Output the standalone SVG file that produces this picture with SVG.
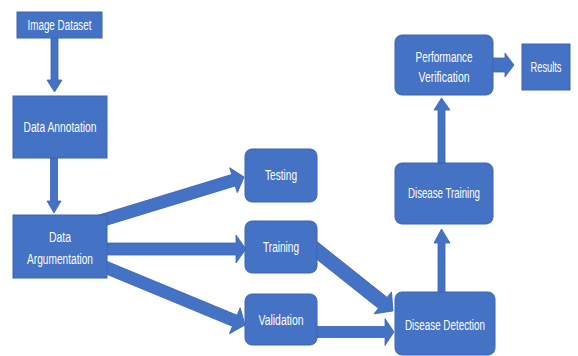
<svg xmlns="http://www.w3.org/2000/svg" width="578" height="356" viewBox="0 0 578 356">
<style>
.box{fill:#4472C4;stroke:#3A65B3;stroke-width:1}
.arr{fill:#4472C4;stroke:#3A65B3;stroke-width:0.8}
.t{fill:#ffffff;font-family:"Liberation Sans",Arial,sans-serif;font-size:14px;text-anchor:middle}
</style>
<rect width="578" height="356" fill="#ffffff"/>
<g id="connectors">
<polygon class="arr" points="51,38 58,38 58,80 62,80 54.5,92 47,80 51,80"/>
<polygon class="arr" points="50.5,158 57.5,158 57.5,201 61,201 54,213 47,201 50.5,201"/>
<path class="arr" transform="translate(100,221) rotate(-16.99)" d="M0,-6 L139.6,-6 L139.6,-13 L150.6,0 L139.6,13 L139.6,6 L0,6 Z"/>
<path class="arr" transform="translate(100,249)" d="M0,-6 L136,-6 L136,-14 L146,0 L136,14 L136,6 L0,6 Z"/>
<path class="arr" transform="translate(100,265) rotate(22.48)" d="M0,-6 L145.9,-6 L145.9,-14 L156.9,0 L145.9,14 L145.9,6 L0,6 Z"/>
<path class="arr" transform="translate(310,245) rotate(38.49)" d="M0,-7 L93,-7 L93,-14 L106,0 L93,14 L93,7 L0,7 Z"/>
<path class="arr" transform="translate(310,332)" d="M0,-5.5 L75,-5.5 L75,-13.5 L84,0 L75,13.5 L75,5.5 L0,5.5 Z"/>
<polygon class="arr" points="438,292 445,292 445,243 450,243 441.5,229 434,243 438,243"/>
<polygon class="arr" points="438,163 445,163 445,110 450,110 441.5,98 434,110 438,110"/>
<path class="arr" transform="translate(490,65)" d="M0,-7 L15,-7 L15,-12 L24,0 L15,12 L15,7 L0,7 Z"/>
</g>
<g id="image-dataset">
<rect class="box" x="17" y="12" width="85" height="26"/>
<text class="t" x="59.5" y="30" textLength="64" lengthAdjust="spacingAndGlyphs">Image Dataset</text>
</g>
<g id="data-annotation">
<rect class="box" x="13" y="96" width="94" height="62"/>
<text class="t" x="60" y="132" textLength="73" lengthAdjust="spacingAndGlyphs">Data Annotation</text>
</g>
<g id="data-argumentation">
<rect class="box" x="13" y="215" width="94" height="63"/>
<text class="t" x="60" y="242" textLength="22" lengthAdjust="spacingAndGlyphs">Data</text>
<text class="t" x="60" y="264" textLength="66" lengthAdjust="spacingAndGlyphs">Argumentation</text>
</g>
<g id="testing">
<rect class="box" x="245" y="149" width="72" height="53" rx="7"/>
<text class="t" x="281" y="180" textLength="32" lengthAdjust="spacingAndGlyphs">Testing</text>
</g>
<g id="training">
<rect class="box" x="245" y="221" width="72" height="52" rx="7"/>
<text class="t" x="281" y="252" textLength="36" lengthAdjust="spacingAndGlyphs">Training</text>
</g>
<g id="validation">
<rect class="box" x="245" y="294" width="72" height="51" rx="7"/>
<text class="t" x="281" y="325" textLength="45" lengthAdjust="spacingAndGlyphs">Validation</text>
</g>
<g id="disease-detection">
<rect class="box" x="395" y="292" width="100" height="63" rx="7"/>
<text class="t" x="445" y="330" textLength="80" lengthAdjust="spacingAndGlyphs">Disease Detection</text>
</g>
<g id="disease-training">
<rect class="box" x="395" y="163" width="98" height="61" rx="7"/>
<text class="t" x="444" y="198" textLength="72" lengthAdjust="spacingAndGlyphs">Disease Training</text>
</g>
<g id="performance-verification">
<rect class="box" x="395" y="35" width="98" height="60" rx="7"/>
<text class="t" x="444" y="62" textLength="57" lengthAdjust="spacingAndGlyphs">Performance</text>
<text class="t" x="444" y="82" textLength="51" lengthAdjust="spacingAndGlyphs">Verification</text>
</g>
<g id="results">
<rect class="box" x="522" y="44" width="48" height="46"/>
<text class="t" x="546" y="72" textLength="31" lengthAdjust="spacingAndGlyphs">Results</text>
</g>
</svg>
